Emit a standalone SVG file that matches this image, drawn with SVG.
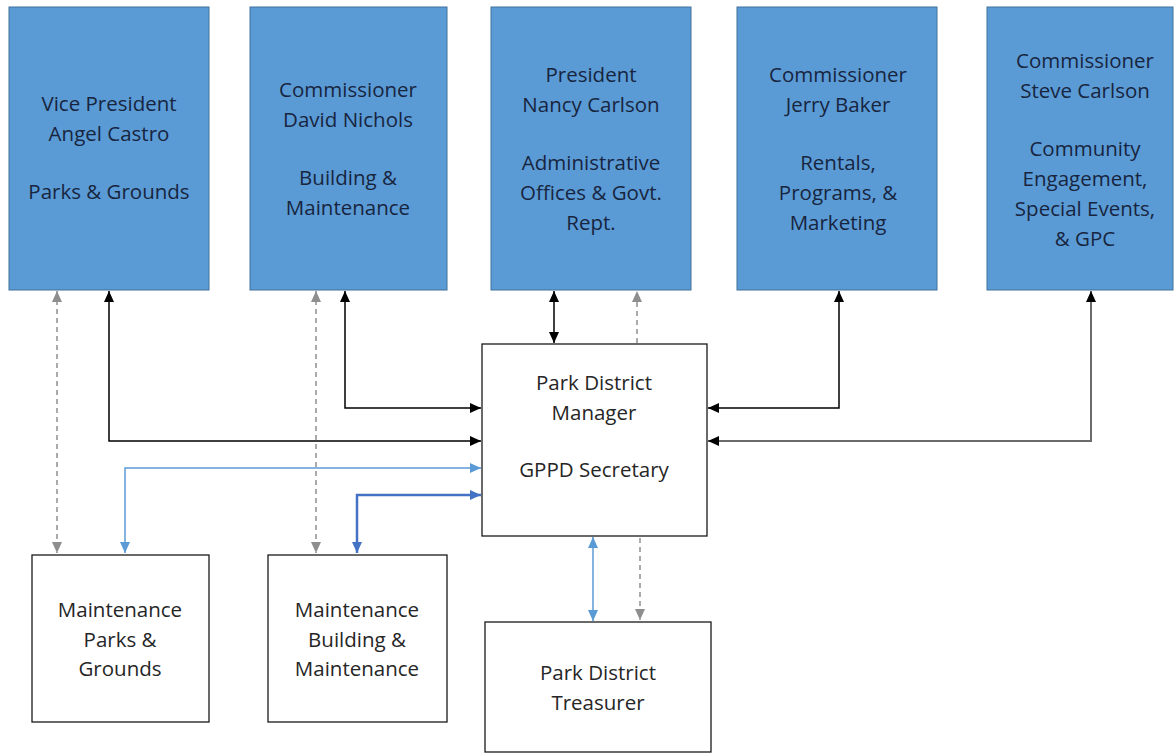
<svg xmlns="http://www.w3.org/2000/svg" width="1175" height="754" viewBox="0 0 1175 754">
<style>
.top rect{fill:#5b9bd5;stroke:#41719c;stroke-width:1}
.bot rect{fill:#fff;stroke:#1a1a1a;stroke-width:1.3}
text{font-family:"Open Sans","Liberation Sans",sans-serif;font-size:20.5px;text-anchor:middle}
.top text{fill:#17253f}
.bot text{fill:#262626}
.k{stroke:#000;stroke-width:1.5;fill:none}
.g{stroke:#8e8e8e;stroke-width:1.5;fill:none;stroke-dasharray:5,4}
.lb{stroke:#5b9bd5;stroke-width:1.5;fill:none}
.db{stroke:#4472c4;stroke-width:2.5;fill:none}
.gs{stroke:#6b6b6b;stroke-width:2;fill:none}
</style>
<defs>
<marker id="ak" markerUnits="userSpaceOnUse" markerWidth="12" markerHeight="10" refX="11" refY="5" orient="auto-start-reverse"><path d="M0,0 L11,5 L0,10 z" fill="#000"/></marker>
<marker id="ag" markerUnits="userSpaceOnUse" markerWidth="12" markerHeight="10" refX="11" refY="5" orient="auto-start-reverse"><path d="M0,0 L11,5 L0,10 z" fill="#8e8e8e"/></marker>
<marker id="alb" markerUnits="userSpaceOnUse" markerWidth="12" markerHeight="10" refX="11" refY="5" orient="auto-start-reverse"><path d="M0,0 L11,5 L0,10 z" fill="#5b9bd5"/></marker>
<marker id="adb" markerUnits="userSpaceOnUse" markerWidth="12" markerHeight="10" refX="11" refY="5" orient="auto-start-reverse"><path d="M0,0 L11,5 L0,10 z" fill="#4472c4"/></marker>
</defs>

<g id="connectors">
<path class="g" d="M57,291 V553" marker-start="url(#ag)" marker-end="url(#ag)"/>
<path class="k" d="M109,291 V441 H481" marker-start="url(#ak)" marker-end="url(#ak)"/>
<path class="g" d="M316,291 V553" marker-start="url(#ag)" marker-end="url(#ag)"/>
<path class="k" d="M345,291 V408 H481" marker-start="url(#ak)" marker-end="url(#ak)"/>
<path class="lb" d="M125,553 V468 H481" marker-start="url(#alb)" marker-end="url(#alb)"/>
<path class="db" d="M357,553 V495 H481" marker-start="url(#adb)" marker-end="url(#adb)"/>
<path class="k" d="M554,291 V343" marker-start="url(#ak)" marker-end="url(#ak)"/>
<path class="g" d="M637,343 V291" marker-end="url(#ag)"/>
<path class="k" d="M708,408 H839 V291" marker-start="url(#ak)" marker-end="url(#ak)"/>
<path class="gs" d="M708,441 H1091 V291" marker-start="url(#ak)" marker-end="url(#ak)"/>
<path class="lb" d="M593,537 V621" marker-start="url(#alb)" marker-end="url(#alb)"/>
<path class="g" d="M640,538 V620" marker-end="url(#ag)"/>
</g>

<g id="vp" class="top"><rect x="9" y="7" width="200" height="283"/>
<text x="109" y="111">Vice President</text><text x="109" y="141">Angel Castro</text><text x="109" y="199">Parks &amp; Grounds</text></g>
<g id="dn" class="top"><rect x="250" y="7" width="197" height="283"/>
<text x="348" y="97">Commissioner</text><text x="348" y="127">David Nichols</text><text x="348" y="185">Building &amp;</text><text x="348" y="215">Maintenance</text></g>
<g id="nc" class="top"><rect x="491" y="7" width="200" height="283"/>
<text x="591" y="82">President</text><text x="591" y="112">Nancy Carlson</text><text x="591" y="170">Administrative</text><text x="591" y="200">Offices &amp; Govt.</text><text x="591" y="230">Rept.</text></g>
<g id="jb" class="top"><rect x="737" y="7" width="200" height="283"/>
<text x="838" y="82">Commissioner</text><text x="838" y="112">Jerry Baker</text><text x="838" y="170">Rentals,</text><text x="838" y="200">Programs, &amp;</text><text x="838" y="230">Marketing</text></g>
<g id="sc" class="top"><rect x="987" y="7" width="186" height="283"/>
<text x="1085" y="68">Commissioner</text><text x="1085" y="98">Steve Carlson</text><text x="1085" y="156">Community</text><text x="1085" y="186">Engagement,</text><text x="1085" y="216">Special Events,</text><text x="1085" y="246">&amp; GPC</text></g>

<g id="mgr" class="bot"><rect x="482" y="344" width="225" height="192"/>
<text x="594" y="390">Park District</text><text x="594" y="420">Manager</text><text x="594" y="477">GPPD Secretary</text></g>
<g id="mpg" class="bot"><rect x="32" y="555" width="177" height="167"/>
<text x="120" y="617">Maintenance</text><text x="120" y="647">Parks &amp;</text><text x="120" y="676">Grounds</text></g>
<g id="mbm" class="bot"><rect x="268" y="555" width="179" height="167"/>
<text x="357" y="617">Maintenance</text><text x="357" y="647">Building &amp;</text><text x="357" y="676">Maintenance</text></g>
<g id="trs" class="bot"><rect x="485" y="622" width="226" height="130"/>
<text x="598" y="680">Park District</text><text x="598" y="710">Treasurer</text></g>
</svg>
